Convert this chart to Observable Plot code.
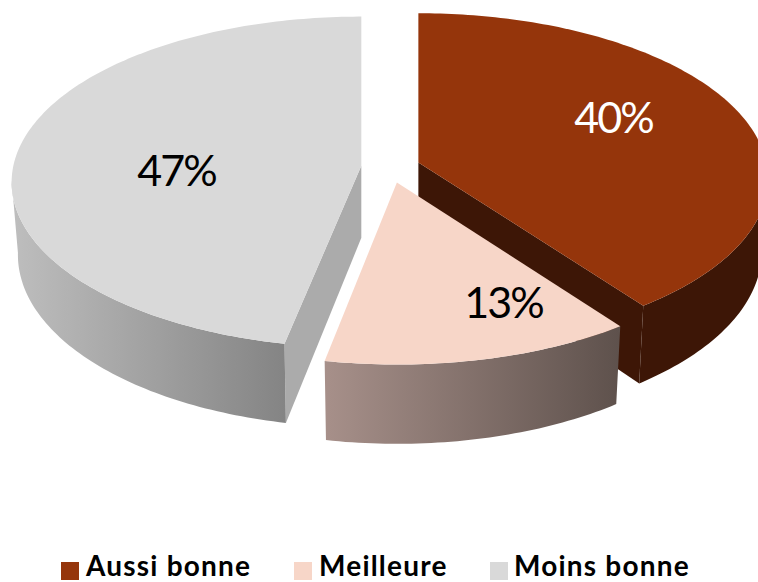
<!DOCTYPE html>
<html>
<head>
<meta charset="utf-8">
<script src="https://cdn.jsdelivr.net/npm/d3@7"></script>
<script src="https://cdn.jsdelivr.net/npm/@observablehq/plot@0.6"></script>
<style>
html,body{margin:0;padding:0;background:#fff;overflow:hidden}
#chart svg{display:block}
#legend{position:relative;width:758px;height:32px;font-family:Lato,sans-serif;font-size:28px;font-weight:700;color:#000;letter-spacing:1.2px}
#legend span{position:absolute;white-space:nowrap;line-height:33px;height:33px;top:-1.5px}
#legend i{position:absolute;top:12px;width:18px;height:18px}
</style>
</head>
<body>
<div id="chart"></div>
<div id="legend"></div>
<script>
// Data
const categories = ["Aussi bonne", "Meilleure", "Moins bonne"];
const shares = [40, 13, 47];
const labels = ["40%", "13%", "47%"];
const topColors = ["#95350B", "#F7D6C8", "#D9D9D9"];
const labelColors = ["#fff", "#000", "#000"];

// Layout of the projected pie
const W = 758, H = 550;
const C = [390, 166.8];         // pie centre on screen
const A = 348, B = 164, P = 0.099; // ellipse radii and perspective
const explodeX = 29.3, explodeY = 15.6;
const depth = 72, bottomX = 0.982, bottomY = 1.04;
const edgeTrim = [[0, -0.5], [-0.2, 0], [0.7, 0]]; // drawn edge shift per slice, degrees
const rad = d => d * Math.PI / 180;

let acc = 0;
const slices = categories.map((name, i) => {
  const a0 = acc / 100 * 360; acc += shares[i];
  const a1 = acc / 100 * 360;
  const mid = rad((a0 + a1) / 2);
  const apex = [C[0] + explodeX * Math.sin(mid), C[1] - explodeY * Math.cos(mid)];
  return {name, i, a0: a0 + edgeTrim[i][0], a1: a1 + edgeTrim[i][1], apex};
});
const rim = (s, deg, bottom = false) => {
  const t = rad(deg), k = 1 + P * Math.cos(t);
  const x = A * Math.sin(t) / k, y = -B * Math.cos(t) / k;
  return bottom
    ? [s.apex[0] + x * bottomX, s.apex[1] + depth + y * bottomY]
    : [s.apex[0] + x, s.apex[1] + y];
};
const arc = (a0, a1) => {
  const out = [];
  for (let d = a0; d < a1; d += 1) out.push(d);
  out.push(a1);
  return out;
};
const topFace = s => [s.apex, ...arc(s.a0, s.a1).map(d => rim(s, d))];
const sideFace = s => {
  const a0 = Math.max(s.a0, 95), a1 = Math.min(s.a1, 265);
  const ds = arc(a0, a1);
  return [...ds.map(d => rim(s, d)), ...ds.reverse().map(d => rim(s, d, true))];
};
const wallFace = (s, deg) => [s.apex, rim(s, deg), rim(s, deg, true), [s.apex[0], s.apex[1] + depth]];

const [dark, pink, grey] = slices;
const poly = (pts, fill) => Plot.line(pts, {x: d => d[0], y: d => d[1], fill, stroke: "none", curve: "linear"});

const defs = () => {
  const d = d3.create("svg:defs");
  const grad = (id, from, to) => {
    const g = d.append("linearGradient").attr("id", id).attr("x1", 0).attr("x2", 1).attr("y1", 0).attr("y2", 0);
    g.append("stop").attr("offset", 0).attr("stop-color", from);
    g.append("stop").attr("offset", 1).attr("stop-color", to);
  };
  grad("rimGrey", "#BEBEBE", "#848484");
  grad("rimPink", "#A7908A", "#5E514C");
  return d.node();
};

const labelAt = [[613, 119], [503, 304], [176, 172]];
const labelData = labels.map((t, i) => ({t, x: labelAt[i][0], y: labelAt[i][1], c: labelColors[i]}));

const chart = Plot.plot({
  width: W, height: H, margin: 0,
  x: {domain: [0, W], range: [0, W], axis: null},
  y: {domain: [0, H], range: [0, H], axis: null},
  style: {background: "#fff", letterSpacing: "-2px"},
  marks: [
    defs,
    // grey slice
    poly(wallFace(grey, grey.a0), "#ABABAB"),
    poly(sideFace(grey), "url(#rimGrey)"),
    poly(topFace(grey), topColors[2]),
    // dark slice
    poly(wallFace(dark, dark.a1), "#3D1606"),
    poly(sideFace(dark), "#3D1606"),
    poly(topFace(dark), topColors[0]),
    // pink slice
    poly(sideFace(pink), "url(#rimPink)"),
    poly(topFace(pink), topColors[1]),
    Plot.text(labelData, {x: "x", y: "y", text: "t", fill: "c", fontFamily: "Lato, sans-serif", fontSize: 43, textAnchor: "middle"})
  ]
});
document.getElementById("chart").append(chart);

const legendPos = [[61, 86], [294, 319], [490, 514]];
const lg = document.getElementById("legend");
categories.forEach((c, i) => {
  const sw = document.createElement("i");
  sw.style.left = legendPos[i][0] + "px";
  sw.style.background = topColors[i];
  lg.append(sw);
  const t = document.createElement("span");
  t.style.left = legendPos[i][1] + "px";
  t.textContent = c;
  lg.append(t);
});
</script>
</body>
</html>
